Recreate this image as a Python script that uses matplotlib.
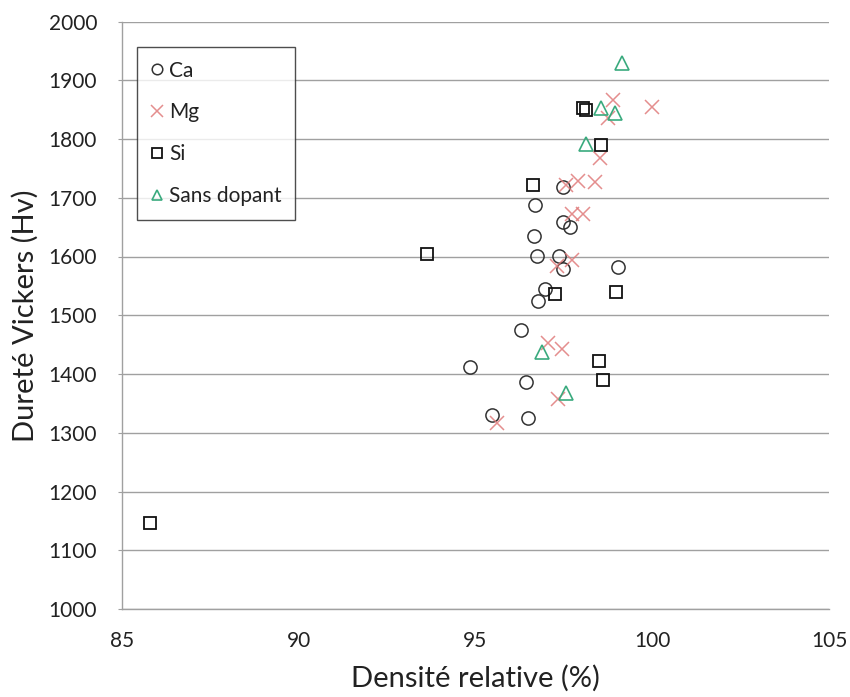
import matplotlib
matplotlib.use("Agg")
import matplotlib.pyplot as plt

plt.rcParams['font.family'] = ['Lato', 'DejaVu Sans']

# Data (Densité relative %, Dureté Vickers Hv)
ca_x = [97.48, 96.68, 97.48, 97.67, 96.65, 96.74, 97.36, 97.48, 99.03, 96.97, 96.77, 96.29, 94.84, 96.43, 95.47, 96.49]
ca_y = [1719, 1687, 1658, 1651, 1635, 1601, 1601, 1579, 1582, 1545, 1524, 1475, 1412, 1386, 1330, 1325]

mg_x = [98.89, 98.75, 99.99, 98.52, 97.55, 97.90, 98.38, 97.73, 98.04, 97.73, 97.30, 97.05, 97.45, 97.33, 95.61]
mg_y = [1866, 1835, 1854, 1767, 1722, 1729, 1727, 1673, 1673, 1594, 1584, 1452, 1442, 1357, 1316]

si_x = [98.04, 98.13, 98.55, 96.63, 93.63, 97.25, 98.97, 98.49, 98.61, 85.8]
si_y = [1852, 1849, 1789, 1722, 1605, 1537, 1540, 1422, 1389, 1147]

sd_x = [99.14, 98.55, 98.95, 98.13, 96.88, 97.56]
sd_y = [1929, 1852, 1844, 1792, 1437, 1367]

labels = ["Ca", "Mg", "Si", "Sans dopant"]
x_ticks = [85, 90, 95, 100, 105]
y_ticks = [1000, 1100, 1200, 1300, 1400, 1500, 1600, 1700, 1800, 1900, 2000]

fig = plt.figure(figsize=(8.5, 6.97), dpi=100)
ax = fig.add_axes([122/850, 1-609/697, 707/850, (609-21.5)/697])

ms = 9.5
ax.plot(ca_x, ca_y, linestyle='none', marker='o', ms=ms, mfc='none', mec='#333333', mew=1.1, label=labels[0], zorder=3)
ax.plot(mg_x, mg_y, linestyle='none', marker='x', ms=ms+1, mec='#e07a7a', mew=1.1, alpha=0.85, label=labels[1], zorder=3)
ax.plot(si_x, si_y, linestyle='none', marker='s', ms=ms-0.5, mfc='none', mec='#111111', mew=1.3, label=labels[2], zorder=3)
ax.plot(sd_x, sd_y, linestyle='none', marker='^', ms=ms, mfc='none', mec='#3aaa7e', mew=1.2, label=labels[3], zorder=3)

ax.set_xlim(85, 105)
ax.set_ylim(1000, 2000)
ax.set_xticks(x_ticks)
ax.set_yticks(y_ticks)
ax.grid(axis='y', color='#a0a0a0', linewidth=1.0)
ax.set_axisbelow(True)
for s in ['top', 'right']:
    ax.spines[s].set_visible(False)
for s in ['left', 'bottom']:
    ax.spines[s].set_color('#a0a0a0')
    ax.spines[s].set_linewidth(1.0)
ax.tick_params(axis='y', length=3, color='#a0a0a0', labelsize=15, labelcolor='#222222', pad=15)
ax.tick_params(axis='x', length=0, labelsize=15, labelcolor='#222222', pad=16)

ax.set_xlabel("Densité relative (%)", fontsize=21, color='#222222', labelpad=10)
ax.set_ylabel("Dureté Vickers (Hv)", fontsize=21, color='#222222', labelpad=7)

leg = ax.legend(loc='upper left', bbox_to_anchor=((137-122)/707, 1-(47-21.5)/587.5),
                borderaxespad=0, fontsize=15, frameon=True, fancybox=False,
                handlelength=0.6, handletextpad=0.3, labelspacing=1.05,
                borderpad=0.65, markerscale=0.8)
leg.get_frame().set_edgecolor('#222222')
leg.get_frame().set_linewidth(1.0)
for t in leg.get_texts():
    t.set_color('#222222')

fig.savefig("out.png", dpi=100)
